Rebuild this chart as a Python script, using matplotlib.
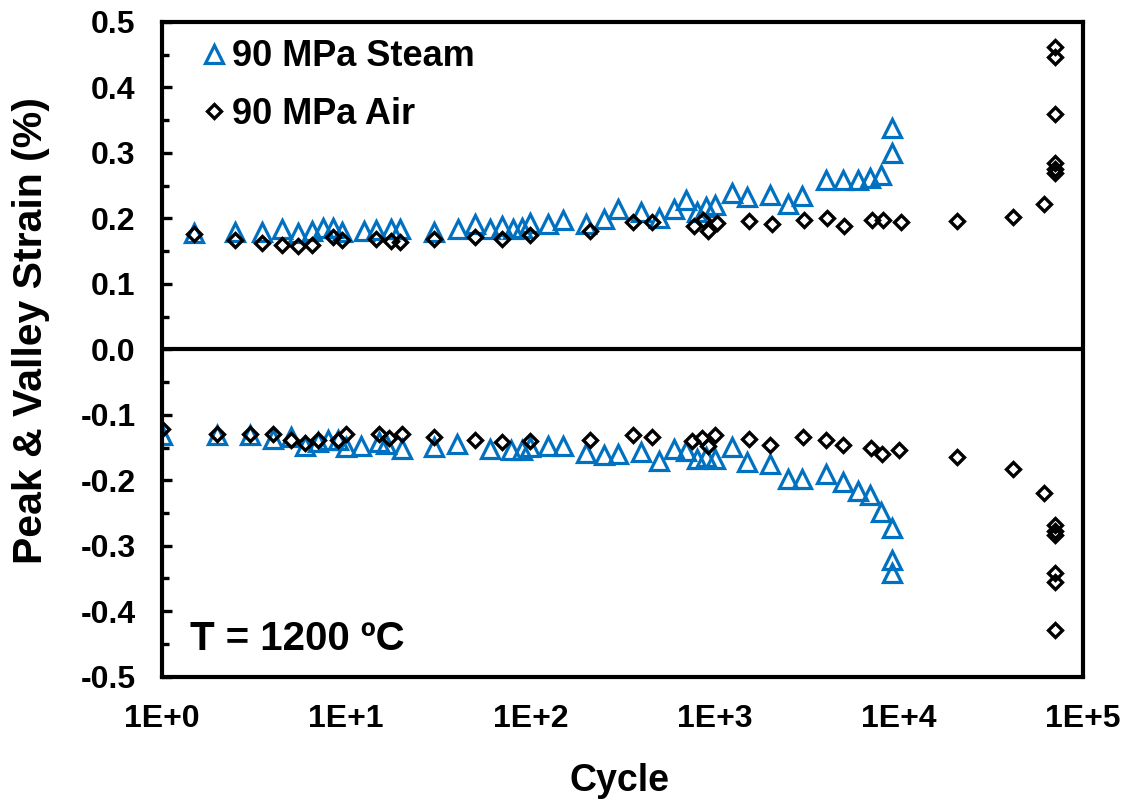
import numpy as np
import matplotlib
matplotlib.use("Agg")
import matplotlib.pyplot as plt
from matplotlib.ticker import MultipleLocator, FixedLocator, FuncFormatter, NullLocator

plt.rcParams['font.family'] = ['Liberation Sans', 'DejaVu Sans']
plt.rcParams['font.weight'] = 'bold'

# ---- peak strain (positive) ----
steam_peak_cycle = [1.5, 2.5, 3.5, 4.5, 5.5, 6.5, 7.5, 8.5, 9.5, 12.5, 14.5, 17.5, 19.5,
                    30, 40.5, 50, 60, 70, 80, 90, 100, 125, 150, 200, 250, 300, 400,
                    500, 600, 700, 800, 900, 1000, 1250, 1500, 2000, 2500, 3000, 4000,
                    5000, 6000, 7000, 8000, 9200, 9200]
steam_peak = [0.177, 0.179, 0.179, 0.183, 0.177, 0.181, 0.185, 0.186, 0.179, 0.181, 0.182,
              0.183, 0.183, 0.179, 0.184, 0.191, 0.184, 0.188, 0.184, 0.186, 0.193, 0.191,
              0.197, 0.191, 0.199, 0.215, 0.210, 0.200, 0.214, 0.228, 0.210, 0.218, 0.220,
              0.238, 0.232, 0.235, 0.222, 0.234, 0.258, 0.258, 0.258, 0.262, 0.267,
              0.300, 0.338]

air_peak_cycle = [1.5, 2.5, 3.5, 4.5, 5.5, 6.5, 8.5, 9.5, 14.5, 17.5, 19.5, 30, 50, 70,
                  100, 210, 360, 460, 770, 870, 920, 1030, 1530, 2040, 3060, 4070, 5070,
                  7160, 8220, 10300, 20600, 41500, 61700,
                  70900, 70900, 70900, 70900, 70900, 70900]
air_peak = [0.176, 0.167, 0.162, 0.160, 0.158, 0.160, 0.172, 0.167, 0.169, 0.166, 0.164,
            0.169, 0.172, 0.169, 0.174, 0.180, 0.194, 0.194, 0.188, 0.198, 0.181, 0.193,
            0.196, 0.191, 0.198, 0.201, 0.188, 0.197, 0.197, 0.195, 0.196, 0.202, 0.222,
            0.462, 0.446, 0.360, 0.285, 0.276, 0.270]

# ---- valley strain (negative) ----
steam_valley_cycle = [1, 2, 3, 4, 5, 6, 7, 8, 9, 10, 12, 15, 16.5, 20, 30, 40, 60, 78, 90,
                      100, 125, 150, 200, 250, 300, 400, 500, 600, 700, 800, 900, 1000,
                      1250, 1500, 2000, 2500, 3000, 4000, 5000, 6000, 7000, 8000,
                      9200, 9200, 9200]
steam_valley = [-0.131, -0.131, -0.131, -0.137, -0.134, -0.148, -0.142, -0.139, -0.139,
                -0.149, -0.147, -0.142, -0.144, -0.152, -0.149, -0.144, -0.153, -0.154,
                -0.154, -0.149, -0.147, -0.147, -0.159, -0.162, -0.160, -0.157, -0.170,
                -0.153, -0.155, -0.167, -0.165, -0.167, -0.149, -0.172, -0.175, -0.198,
                -0.198, -0.191, -0.203, -0.217, -0.222, -0.249, -0.273, -0.322, -0.341]

air_valley_cycle = [1, 2, 3, 4, 5, 6, 7, 9, 10, 15, 17, 20, 30, 50, 70, 100, 210, 360,
                    460, 750, 850, 920, 1000, 1530, 2010, 3030, 4000, 5000, 7060, 8130,
                    10000, 20600, 41500, 61700,
                    70900, 70900, 70900, 70900, 70900, 70900]
air_valley = [-0.121, -0.130, -0.129, -0.130, -0.138, -0.143, -0.138, -0.139, -0.130,
              -0.130, -0.135, -0.130, -0.134, -0.139, -0.142, -0.140, -0.139, -0.131,
              -0.134, -0.140, -0.135, -0.147, -0.131, -0.137, -0.146, -0.134, -0.138,
              -0.146, -0.150, -0.160, -0.154, -0.164, -0.183, -0.219,
              -0.269, -0.277, -0.284, -0.342, -0.356, -0.429]

steam_label = "90 MPa Steam"
air_label = "90 MPa Air"
temp_text = "T = 1200 ºC"
blue = "#0070C0"

fig = plt.figure(figsize=(11.3, 8.01), dpi=100)
ax = fig.add_axes([0.1434, 0.1552, 0.815, 0.8174])

tri = dict(marker='^', ms=12.5, mew=2.3, mfc='none', mec=blue, ls='none')
dia = dict(marker='D', ms=7.5, mew=2.4, mfc='none', mec='black', ls='none')

ax.plot(steam_peak_cycle, steam_peak, label=steam_label, **tri)
ax.plot(steam_valley_cycle, steam_valley, **tri)
ax.plot(air_peak_cycle, air_peak, label=air_label, **dia)
ax.plot(air_valley_cycle, air_valley, **dia)

ax.axhline(0.0, color='black', lw=3, zorder=1)

ax.set_xscale('log')
ax.set_xlim(1, 1e5)
ax.set_ylim(-0.5, 0.5)

ax.xaxis.set_major_locator(FixedLocator([1, 10, 100, 1e3, 1e4, 1e5]))
ax.xaxis.set_minor_locator(NullLocator())
ax.xaxis.set_major_formatter(FuncFormatter(lambda v, p: f"1E+{int(round(np.log10(v)))}"))
ax.tick_params(axis='x', which='both', length=0, pad=20, labelsize=23)

ax.yaxis.set_major_locator(MultipleLocator(0.1))
ax.yaxis.set_minor_locator(MultipleLocator(0.05))
ax.yaxis.set_major_formatter(FuncFormatter(lambda v, p: f"{v:.1f}".replace("-0.0", "0.0")))
ax.tick_params(axis='y', which='major', direction='in', length=7, width=2.4,
               pad=19, labelsize=23)
ax.tick_params(axis='y', which='minor', direction='in', length=5, width=2.4)

for s in ax.spines.values():
    s.set_linewidth(3)

for t in ax.get_xticklabels() + ax.get_yticklabels():
    t.set_fontweight('bold')

ax.set_xlabel("Cycle", fontsize=27, fontweight='bold')
ax.xaxis.set_label_coords(0.497, -0.132)
ax.set_ylabel("Peak & Valley Strain (%)", fontsize=29.5, fontweight='bold')
ax.yaxis.set_label_coords(-0.122, 0.528)

ax.legend(loc='upper left', bbox_to_anchor=(0.009, 1.012), frameon=False,
          prop={'size': 26, 'weight': 'bold'}, handlelength=1.0, handletextpad=0.0,
          labelspacing=0.62, borderaxespad=0.3, markerscale=1.0)

ax.text(0.030, 0.041, temp_text, transform=ax.transAxes, fontsize=29,
        fontweight='bold', ha='left', va='baseline')

fig.savefig("out.png", dpi=100)
